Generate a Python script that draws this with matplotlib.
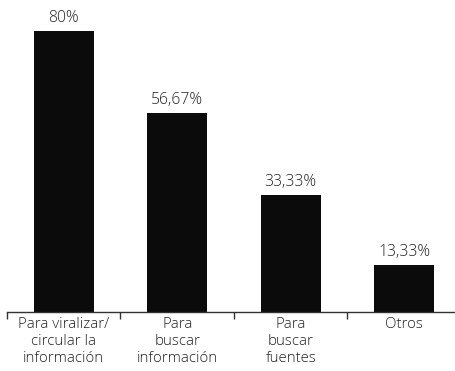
import matplotlib
matplotlib.use("Agg")
import matplotlib.pyplot as plt

categories = ["Para viralizar/\ncircular la\ninformación", "Para\nbuscar\ninformación", "Para\nbuscar\nfuentes", "Otros"]
values = [80, 56.67, 33.33, 13.33]
value_labels = ["80%", "56,67%", "33,33%", "13,33%"]

plt.rcParams['font.family'] = ['Open Sans', 'DejaVu Sans']

fig = plt.figure(figsize=(4.56, 3.71), dpi=100)
ax = fig.add_axes([7/456, 59/371, 449/456, 312/371])

x = list(range(len(categories)))
bars = ax.bar(x, values, width=0.53, color="#0b0b0b")
for xi, v, lab in zip(x, values, value_labels):
    ax.text(xi, v + 1.4, lab, ha="center", va="bottom", fontsize=11.3,
            color="#222222", fontweight="light")

ax.set_xlim(-0.5, 3.456)
ax.set_ylim(0, 312/3.51)
for s in ["top", "right", "left"]:
    ax.spines[s].set_visible(False)
ax.spines["bottom"].set_color("#333333")
ax.spines["bottom"].set_linewidth(1.0)
ax.set_yticks([])
ax.set_xticks([-0.5, 0.5, 1.5, 2.5])
ax.set_xticklabels([])
ax.set_xticks(x, minor=True)
ax.set_xticklabels(categories, minor=True, fontsize=10.8, color="#222222",
                   linespacing=1.2, fontweight="light")
ax.tick_params(axis="x", which="major", length=5, width=1, color="#333333", direction="out")
ax.tick_params(axis="x", which="minor", length=0, pad=3.5)

fig.savefig("out.png", dpi=100)
